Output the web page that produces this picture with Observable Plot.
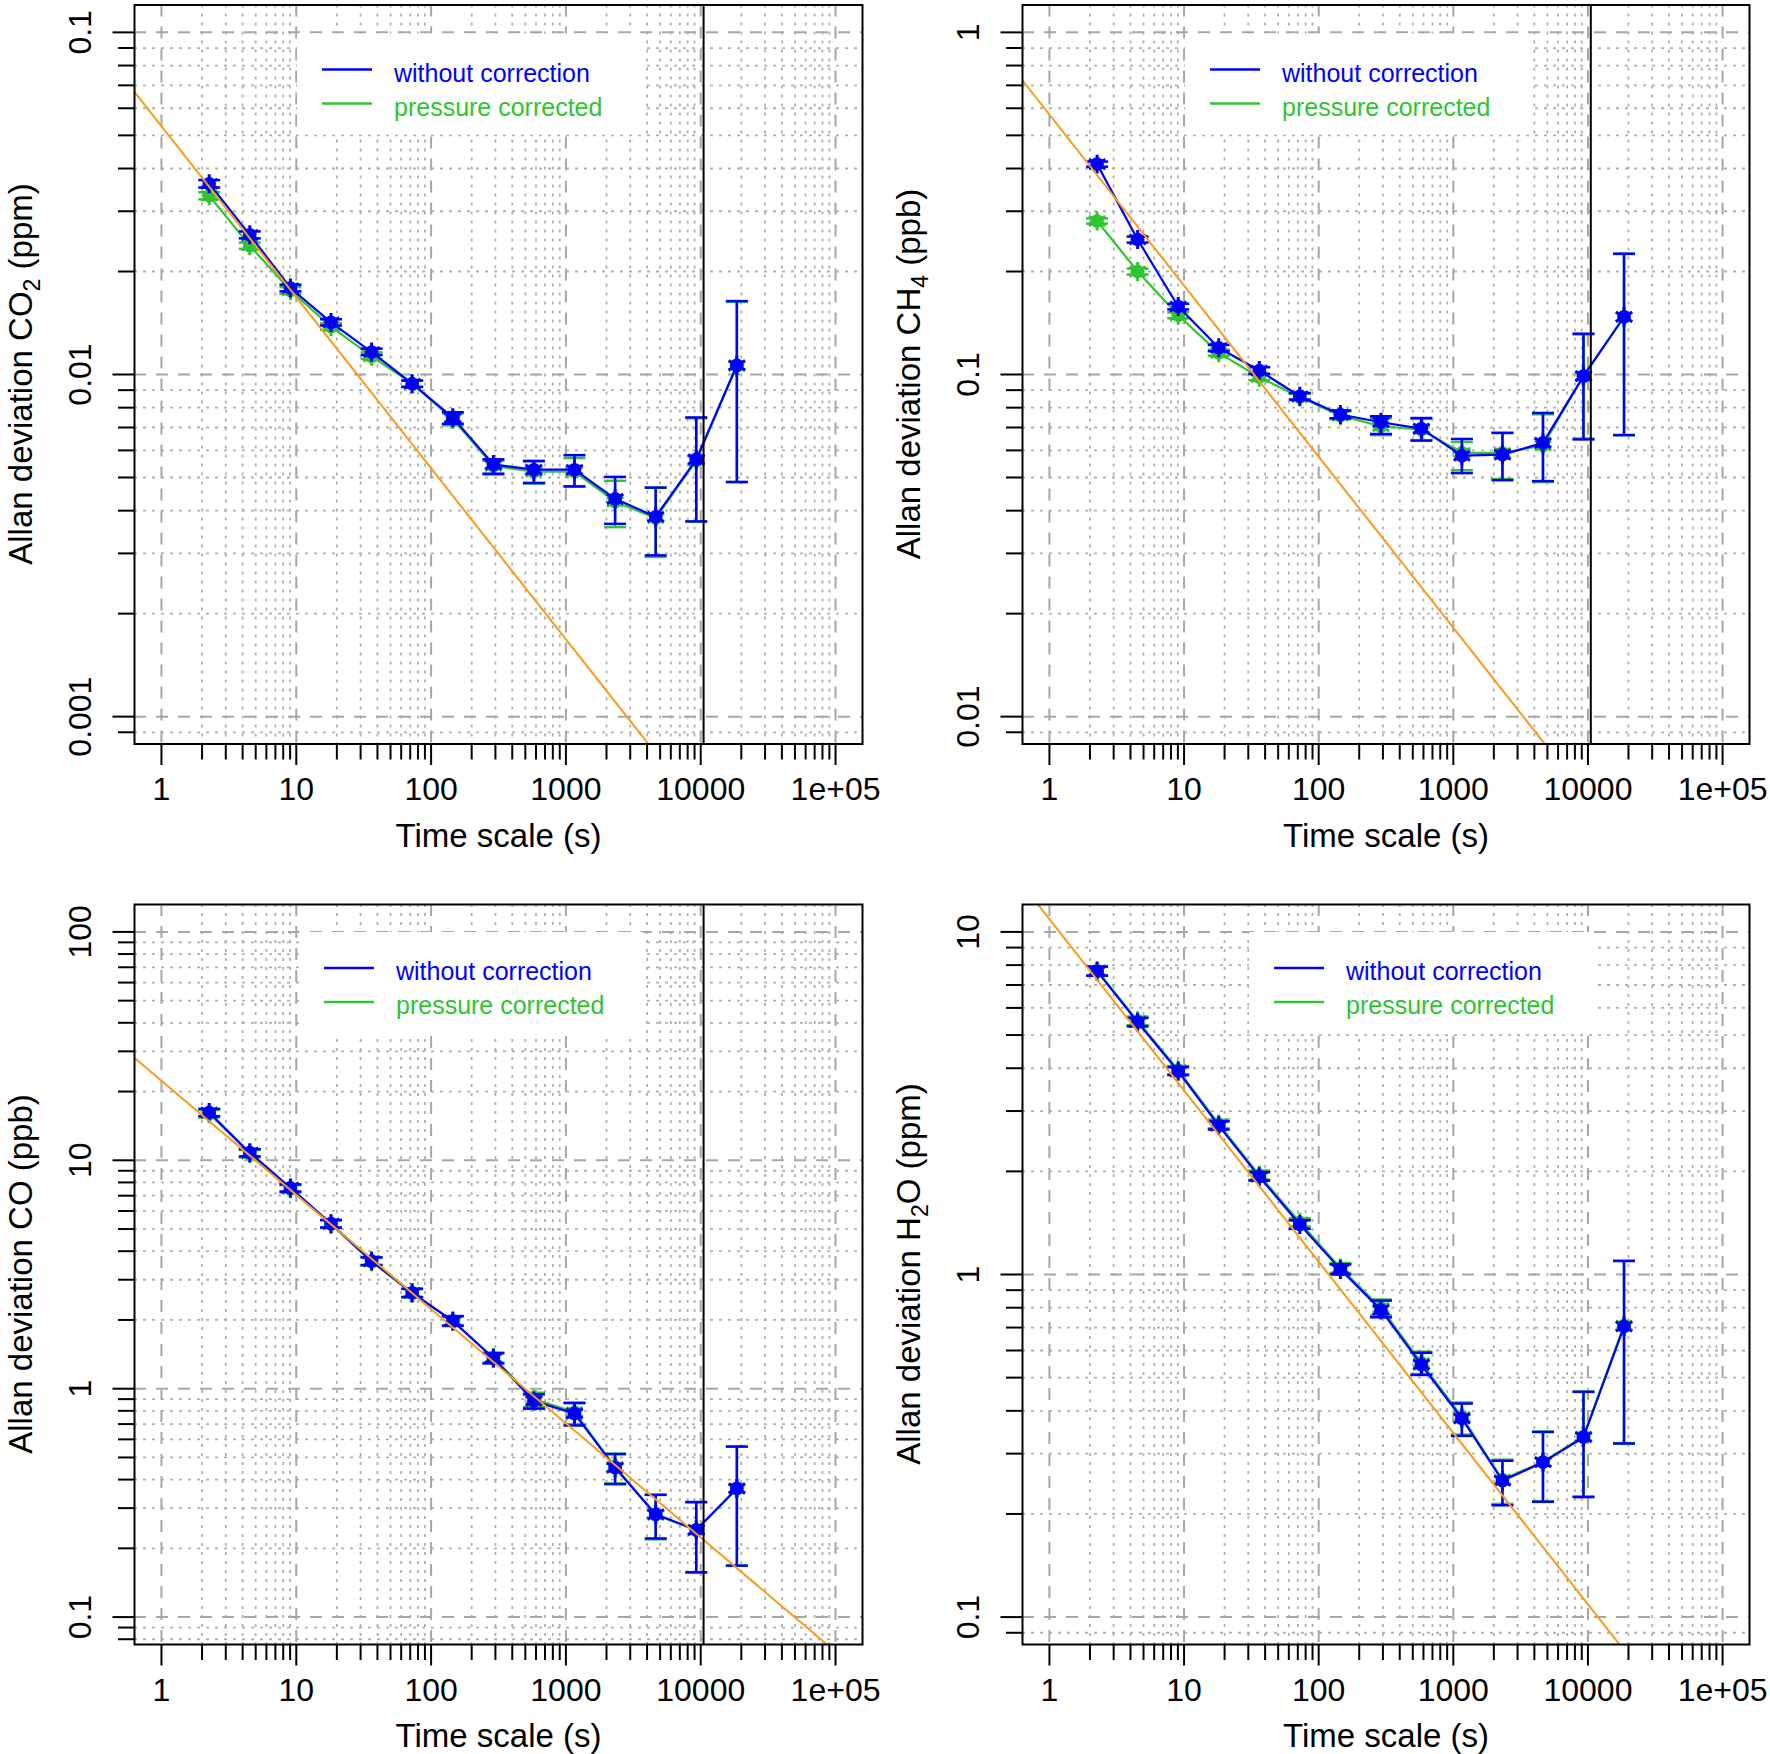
<!DOCTYPE html>
<html>
<head>
<meta charset="utf-8">
<script src="https://cdn.jsdelivr.net/npm/d3@7"></script>
<script src="https://cdn.jsdelivr.net/npm/@observablehq/plot@0.6"></script>
<style>
html, body { margin: 0; padding: 0; background: #fff; }
#wrap { position: relative; width: 1770px; height: 1754px; overflow: hidden; background: #fff; }
.panel { position: absolute; }
</style>
</head>
<body>
<div id="wrap"></div>
<script>
// ---------- data ----------
const tau = [2.26, 4.52, 9.05, 18.1, 36.2, 72.4, 145, 290, 579, 1158, 2317, 4634, 9267, 18534];

const co2Raw   = [0.0361, 0.0256, 0.0179, 0.0142, 0.01163, 0.0094, 0.00748, 0.00546, 0.00527, 0.00527, 0.00433, 0.00384, 0.00565, 0.01064];
const co2RawLo = [0.0352, 0.0250, 0.0175, 0.0139, 0.0114, 0.0092, 0.00718, 0.00513, 0.00482, 0.00471, 0.00366, 0.00296, 0.00372, 0.00485];
const co2RawHi = [0.0370, 0.0262, 0.0183, 0.0145, 0.0119, 0.0096, 0.00776, 0.00565, 0.00558, 0.00581, 0.00502, 0.00467, 0.00749, 0.01639];
const co2Cor   = [0.0333, 0.0238, 0.0176, 0.0138, 0.0113, 0.0094, 0.0074, 0.0054, 0.0052, 0.0052, 0.00425, 0.0038, 0.0056, 0.0106];
const co2CorLo = [0.0325, 0.0233, 0.0172, 0.0135, 0.0111, 0.0092, 0.0071, 0.0051, 0.0048, 0.0047, 0.00358, 0.00293, 0.00372, 0.00485];
const co2CorHi = [0.0341, 0.0243, 0.0180, 0.0141, 0.0116, 0.0096, 0.0077, 0.0056, 0.0056, 0.0057, 0.00489, 0.00467, 0.00745, 0.0163];

const ch4Raw   = [0.412, 0.248, 0.158, 0.1197, 0.1027, 0.0864, 0.0764, 0.0725, 0.0695, 0.0579, 0.0583, 0.0631, 0.0989, 0.1475];
const ch4RawLo = [0.405, 0.243, 0.155, 0.117, 0.1005, 0.0845, 0.0745, 0.067, 0.0641, 0.0515, 0.0491, 0.0488, 0.0646, 0.0665];
const ch4RawHi = [0.419, 0.253, 0.161, 0.122, 0.105, 0.0883, 0.0785, 0.0755, 0.0746, 0.0648, 0.0675, 0.0772, 0.1316, 0.2255];
const ch4Cor   = [0.281, 0.200, 0.149, 0.1157, 0.0982, 0.086, 0.0758, 0.0706, 0.069, 0.059, 0.059, 0.062, 0.099, 0.147];
const ch4CorLo = [0.276, 0.196, 0.146, 0.1135, 0.0963, 0.0842, 0.074, 0.0665, 0.0642, 0.0525, 0.0495, 0.0485, 0.065, 0.0665];
const ch4CorHi = [0.286, 0.204, 0.152, 0.118, 0.1001, 0.0878, 0.078, 0.0745, 0.0742, 0.0635, 0.0675, 0.0765, 0.131, 0.225];

const coRaw   = [16.2, 10.8, 7.57, 5.28, 3.62, 2.63, 1.98, 1.36, 0.883, 0.778, 0.451, 0.282, 0.241, 0.366];
const coRawLo = [15.6, 10.4, 7.3, 5.08, 3.48, 2.52, 1.89, 1.29, 0.818, 0.69, 0.382, 0.221, 0.157, 0.168];
const coRawHi = [16.8, 11.2, 7.85, 5.48, 3.76, 2.74, 2.08, 1.43, 0.944, 0.865, 0.517, 0.343, 0.319, 0.558];
const coCor   = [16.0, 10.7, 7.5, 5.25, 3.6, 2.62, 1.97, 1.37, 0.90, 0.79, 0.455, 0.28, 0.24, 0.365];
const coCorLo = [15.4, 10.3, 7.22, 5.05, 3.46, 2.51, 1.88, 1.30, 0.83, 0.70, 0.385, 0.219, 0.157, 0.168];
const coCorHi = [16.6, 11.1, 7.78, 5.45, 3.74, 2.73, 2.07, 1.44, 0.96, 0.87, 0.52, 0.343, 0.318, 0.558];

const h2oRaw   = [7.68, 5.45, 3.92, 2.72, 1.93, 1.40, 1.035, 0.788, 0.545, 0.380, 0.250, 0.283, 0.335, 0.705];
const h2oRawLo = [7.45, 5.30, 3.82, 2.65, 1.88, 1.36, 1.0, 0.75, 0.509, 0.338, 0.212, 0.217, 0.224, 0.321];
const h2oRawHi = [7.92, 5.61, 4.03, 2.80, 1.99, 1.44, 1.07, 0.839, 0.591, 0.42, 0.286, 0.347, 0.4545, 1.095];
const h2oCor   = [7.70, 5.50, 3.95, 2.75, 1.95, 1.42, 1.045, 0.80, 0.552, 0.384, 0.252, 0.284, 0.337, 0.71];
const h2oCorLo = [7.47, 5.34, 3.84, 2.67, 1.89, 1.38, 1.01, 0.76, 0.512, 0.341, 0.214, 0.218, 0.225, 0.322];
const h2oCorHi = [7.94, 5.66, 4.06, 2.83, 2.01, 1.46, 1.08, 0.845, 0.595, 0.423, 0.288, 0.348, 0.455, 1.097];

// white-noise reference lines (tau^-1/2), end points
const refTau = [0.5, 200000];
const co2Ref = [0.07524, 0.000119];
const ch4Ref = [0.8132, 0.001286];
const coRef  = [31.54, 0.04987];
const h2oRef = [15.41, 0.02437];

const vlineTau = [10500];

const xMajor = [1, 10, 100, 1000, 10000, 100000];
const xTickLabels = ["1", "10", "100", "1000", "10000", "1e+05"];
const co2YMajor = [0.001, 0.01, 0.1], co2YLabels = ["0.001", "0.01", "0.1"];
const ch4YMajor = [0.01, 0.1, 1],     ch4YLabels = ["0.01", "0.1", "1"];
const coYMajor  = [0.1, 1, 10, 100],  coYLabels  = ["0.1", "1", "10", "100"];
const h2oYMajor = [0.1, 1, 10],       h2oYLabels = ["0.1", "1", "10"];

const legendLabels = ["without correction", "pressure corrected"];
const xTitle = "Time scale (s)";

// ---------- styling ----------
const BLUE = "#0000ff", GREEN = "#30c430", ORANGE = "#fa9a1c";
const FONT = "'Liberation Sans', Arial, Helvetica, sans-serif";

const xMinor = [];
for (let k = 0; k <= 4; k++) for (let m = 2; m <= 9; m++) xMinor.push(m * Math.pow(10, k));

function series(x, v, lo, hi) {
  return x.map((t, i) => ({t, v: v[i], lo: lo[i], hi: hi[i]}));
}

const capSymbol = {
  draw(context, size) {
    const w = Math.sqrt(size / Math.PI);
    context.moveTo(-w, 0);
    context.lineTo(w, 0);
  }
};

function legendMark(p) {
  return (index, scales, values, dims) => {
    const g = d3.create("svg:g").attr("font-family", FONT).attr("text-anchor", "start");
    const x0 = dims.marginLeft + p.legDx, y0 = dims.marginTop + p.legDy;
    g.append("rect").attr("x", x0 + 163).attr("y", y0 + 29).attr("width", 344).attr("height", 101).attr("fill", "white");
    const rows = [[BLUE, legendLabels[0], 65], [GREEN, legendLabels[1], 99]];
    for (const [c, t, yy] of rows) {
      g.append("line").attr("x1", x0 + 188).attr("x2", x0 + 238).attr("y1", y0 + yy).attr("y2", y0 + yy)
        .attr("stroke", c).attr("stroke-width", 2.5);
      g.append("text").attr("x", x0 + 260).attr("y", y0 + yy + 12).attr("fill", c)
        .attr("text-anchor", "start").attr("font-size", 25).text(t);
    }
    return g.node();
  };
}

function yTitleMark(parts) {
  return (index, scales, values, dims) => {
    const cy = (dims.marginTop + dims.height - dims.marginBottom) / 2;
    const t = d3.create("svg:text")
      .attr("transform", `translate(${dims.marginLeft - 102},${cy}) rotate(-90)`)
      .attr("text-anchor", "middle").attr("font-size", 33).attr("fill", "black").attr("font-family", FONT);
    t.append("tspan").text(parts[0]);
    if (parts.length > 1) {
      t.append("tspan").attr("font-size", 23).attr("dy", 8).text(parts[1]);
      t.append("tspan").attr("dy", -8).text(parts[2]);
    }
    return t.node();
  };
}

function seriesMarks(data, color) {
  return [
    Plot.ruleX(data, {x: "t", y1: "lo", y2: "hi", stroke: color, strokeWidth: 2.5}),
    Plot.dot(data, {x: "t", y: "lo", symbol: capSymbol, r: 11, fill: "none", stroke: color, strokeWidth: 2.5}),
    Plot.dot(data, {x: "t", y: "hi", symbol: capSymbol, r: 11, fill: "none", stroke: color, strokeWidth: 2.5}),
    Plot.line(data, {x: "t", y: "v", stroke: color, strokeWidth: 2.2}),
    Plot.dot(data, {x: "t", y: "v", r: 6.8, fill: color, stroke: "none"}),
    Plot.dot(data, {x: "t", y: "v", symbol: "asterisk", r: 9, stroke: color, strokeWidth: 3})
  ];
}

const panels = [
  {left: 0, top: 0, mt: 4.5, mb: 133.5, ml: 134, mr: 23, yExp: [-3.08, -0.92],
   raw: series(tau, co2Raw, co2RawLo, co2RawHi), cor: series(tau, co2Cor, co2CorLo, co2CorHi),
   yMajor: co2YMajor, yLabels: co2YLabels, ref: co2Ref, vline: true,
   title: ["Allan deviation CO", "2", " (ppm)"], legDx: 0, legDy: 0},
  {left: 885, top: 0, mt: 4.5, mb: 133.5, ml: 137, mr: 21, yExp: [-2.08, 0.08],
   raw: series(tau, ch4Raw, ch4RawLo, ch4RawHi), cor: series(tau, ch4Cor, ch4CorLo, ch4CorHi),
   yMajor: ch4YMajor, yLabels: ch4YLabels, ref: ch4Ref, vline: true,
   title: ["Allan deviation CH", "4", " (ppb)"], legDx: 0, legDy: 0},
  {left: 0, top: 877, mt: 27, mb: 110, ml: 134, mr: 23, yExp: [-1.12, 2.12],
   raw: series(tau, coRaw, coRawLo, coRawHi), cor: series(tau, coCor, coCorLo, coCorHi),
   yMajor: coYMajor, yLabels: coYLabels, ref: coRef, vline: true,
   title: ["Allan deviation CO (ppb)"], legDx: 2, legDy: -1},
  {left: 885, top: 877, mt: 27, mb: 110, ml: 137, mr: 21, yExp: [-1.08, 1.08],
   raw: series(tau, h2oRaw, h2oRawLo, h2oRawHi), cor: series(tau, h2oCor, h2oCorLo, h2oCorHi),
   yMajor: h2oYMajor, yLabels: h2oYLabels, ref: h2oRef, vline: false,
   title: ["Allan deviation H", "2", "O (ppm)"], legDx: 64, legDy: -1}
];

const wrap = document.getElementById("wrap");

for (const p of panels) {
  const yDomain = [Math.pow(10, p.yExp[0]), Math.pow(10, p.yExp[1])];
  const yMinor = [];
  for (let k = Math.floor(p.yExp[0]); k <= Math.ceil(p.yExp[1]); k++)
    for (let m = 2; m <= 9; m++) {
      const v = m * Math.pow(10, k), lv = Math.log10(v);
      if (lv > p.yExp[0] && lv < p.yExp[1]) yMinor.push(v);
    }
  const yLabelOf = d => p.yLabels[p.yMajor.findIndex(v => Math.abs(Math.log10(v) - Math.log10(d)) < 1e-6)];
  const xLabelOf = d => xTickLabels[Math.round(Math.log10(d))];
  const refData = refTau.map((t, i) => ({t, v: p.ref[i]}));

  const chart = Plot.plot({
    width: 885, height: 877,
    marginTop: p.mt, marginBottom: p.mb, marginLeft: p.ml, marginRight: p.mr,
    style: {fontFamily: FONT, background: "white", overflow: "visible"},
    x: {type: "log", domain: [Math.pow(10, -0.2), Math.pow(10, 5.2)]},
    y: {type: "log", domain: yDomain},
    marks: [
      Plot.ruleX(xMinor, {stroke: "#b0b0b0", strokeWidth: 1.8, strokeDasharray: "3,6"}),
      Plot.ruleY(yMinor, {stroke: "#b0b0b0", strokeWidth: 1.8, strokeDasharray: "3,6"}),
      Plot.ruleX(xMajor, {stroke: "#a6a6a6", strokeWidth: 2, strokeDasharray: "12,10"}),
      Plot.ruleY(p.yMajor, {stroke: "#a6a6a6", strokeWidth: 2, strokeDasharray: "12,10"}),
      legendMark(p),
      ...seriesMarks(p.cor, GREEN),
      ...seriesMarks(p.raw, BLUE),
      Plot.line(refData, {x: "t", y: "v", stroke: ORANGE, strokeWidth: 2, clip: true}),
      p.vline ? Plot.ruleX(vlineTau, {stroke: "black", strokeWidth: 2}) : null,
      Plot.axisX({ticks: xMinor, tickSize: 16, tickFormat: () => "", label: null, strokeWidth: 2, stroke: "black"}),
      Plot.axisX({ticks: xMajor, tickSize: 21.5, tickPadding: 11.8, tickFormat: xLabelOf, label: null,
                  fontSize: 32, strokeWidth: 2, stroke: "black", fill: "black"}),
      Plot.axisY({ticks: yMinor, tickSize: 16, tickFormat: () => "", label: null, strokeWidth: 2, stroke: "black"}),
      Plot.axisY({ticks: p.yMajor, tickSize: 21.5, tickPadding: 21.8, tickRotate: -90, textAnchor: "middle", lineAnchor: "bottom",
                  tickFormat: yLabelOf, label: null, fontSize: 32, strokeWidth: 2, stroke: "black", fill: "black"}),
      Plot.text([xTitle], {text: d => d, frameAnchor: "bottom", dy: 92, lineAnchor: "middle", fontSize: 33, fill: "black"}),
      yTitleMark(p.title),
      Plot.frame({stroke: "black", strokeWidth: 2})
    ]
  });
  chart.classList.add("panel");
  chart.style.left = p.left + "px";
  chart.style.top = p.top + "px";
  wrap.appendChild(chart);
}
</script>
</body>
</html>
